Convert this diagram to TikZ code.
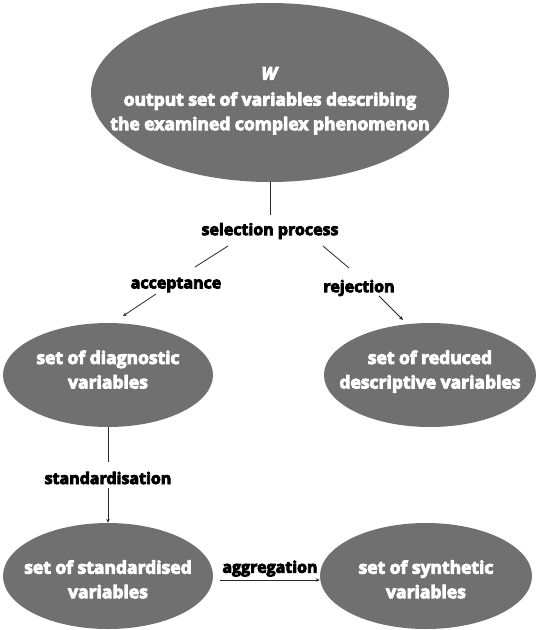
\documentclass[tikz,border=0pt]{standalone}
\usepackage{fontspec}
\setmainfont{Open Sans}[BoldFeatures={FakeBold=5},BoldItalicFeatures={FakeBold=5}]
\usetikzlibrary{shapes.geometric,calc,arrows.meta}
\definecolor{ellfill}{RGB}{112,112,112}
\definecolor{linec}{RGB}{40,40,40}
\newcommand{\addht}[1]{\rule{0pt}{#1}}
\newcommand{\adddp}[1]{\rule[-#1]{0pt}{0pt}}
\begin{document}
\begin{tikzpicture}[x=1pt,y=-1pt,
  ell/.style={ellipse, fill=ellfill, text=white, font=\bfseries\fontsize{17.5}{24.5}\selectfont, align=center, inner sep=-60pt},
  lbl/.style={font=\bfseries\fontsize{16}{19}\selectfont, text=black, inner sep=0pt},
  conn/.style={draw=linec, line width=0.8pt},
  arr/.style={conn, -{Stealth[length=4pt,width=3.5pt]}}]
\useasboundingbox (0,0) rectangle (536,630);
\node[ell, minimum width=358pt, minimum height=179pt] (w) at (270,92.5)
  {\addht{29pt}\textit{W}\\[1.5pt]output set of variables describing\\the examined complex phenomenon};
\node[lbl] (sel) at (270,231) {selection process};
\node[lbl] (acc) at (176,285) {acceptance};
\node[lbl] (rej) at (359,288) {rejection};
\node[ell, minimum width=210pt, minimum height=104pt] (dia) at (108,375)
  {set of diagnostic\\variables\adddp{11pt}};
\node[ell, minimum width=212pt, minimum height=104pt] (red) at (430,375)
  {set of reduced\\descriptive variables\adddp{11pt}};
\node[lbl] (std) at (108,478) {standardisation};
\node[ell, minimum width=210pt, minimum height=106pt] (sta) at (108,576)
  {\addht{20pt}set of standardised\\variables};
\node[ell, minimum width=212pt, minimum height=106pt] (syn) at (426,576)
  {\addht{20pt}set of synthetic\\variables};
\draw[conn] (w) -- ($(sel)+(0,-16)$);
\draw[conn] ($(sel)+(-42,15)$) -- ($(acc)+(19,-18)$);
\draw[conn] ($(sel)+(53,15)$) -- ($(rej)+(-10,-20)$);
\draw[arr] ($(acc)+(-20,9)$) -- ($(dia)+(15,-59)$);
\draw[arr] ($(rej)+(20,8)$) -- ($(red)+(-27,-55)$);
\draw[conn] (dia.south) -- ($(std)+(0,-16)$);
\draw[arr] ($(std)+(0,10)$) -- (sta.north);
\draw[arr] ($(sta.east)+(7,4)$) -- ($(syn.west)+(0,4)$) node[lbl, midway, above, inner sep=3pt] (agg) {aggregation};
\end{tikzpicture}
\end{document}
